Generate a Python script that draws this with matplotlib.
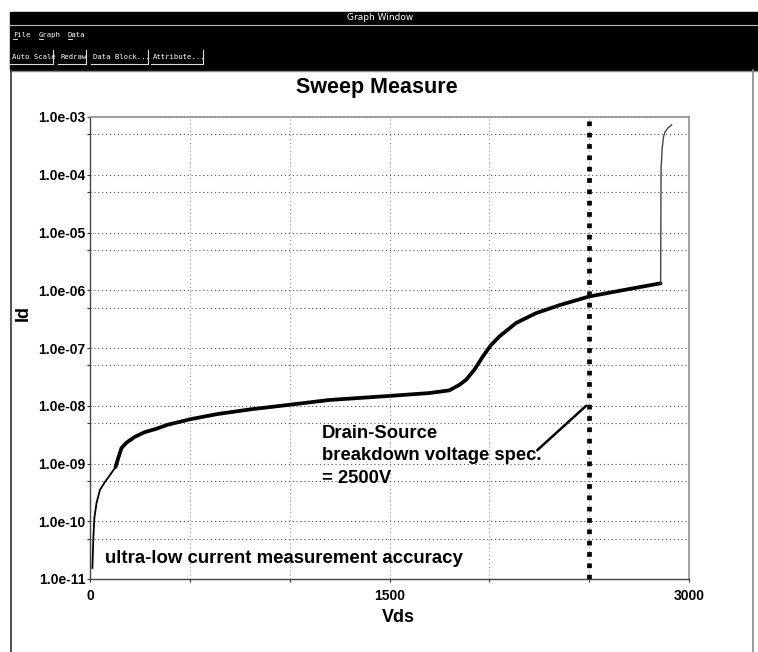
import numpy as np
import matplotlib.pyplot as plt
from matplotlib.patches import Rectangle
from matplotlib.lines import Line2D
from matplotlib.ticker import FixedLocator, FuncFormatter

# Id-Vds sweep, leakage region up to breakdown
vds = [12, 17, 22, 33, 50, 75, 100, 128, 142, 158, 183, 225, 275, 333, 390,
       508, 640, 808, 958, 1200, 1500, 1700, 1800, 1850, 1883, 1925, 1967,
       2008, 2050, 2133, 2233, 2350, 2500, 2667, 2858]
id_a = [1.55e-11, 5.4e-11, 1.15e-10, 2.1e-10, 3.5e-10, 4.8e-10, 6.3e-10,
        8.7e-10, 1.26e-9, 1.86e-9, 2.3e-9, 2.9e-9, 3.5e-9, 4.0e-9, 4.7e-9,
        5.9e-9, 7.2e-9, 8.7e-9, 1.0e-8, 1.26e-8, 1.48e-8, 1.66e-8, 1.85e-8,
        2.3e-8, 2.8e-8, 4.2e-8, 7.1e-8, 1.12e-7, 1.58e-7, 2.7e-7, 4.0e-7,
        5.5e-7, 7.8e-7, 1.0e-6, 1.32e-6]

# avalanche jump after the sweep passes ~2860 V
vds_bd = [2858, 2860, 2862, 2865, 2872, 2880, 2895, 2913]
id_bd = [1.32e-6, 1.4e-4, 1.6e-4, 2.7e-4, 4.5e-4, 5.5e-4, 6.5e-4, 7.3e-4]

spec_v = 2500
x_ticks = [0, 500, 1000, 1500, 2000, 2500, 3000]
x_labels = ['0', '', '', '1500', '', '', '3000']
y_major = [10.0 ** k for k in range(-11, -2)]
y_minor = [5 * 10.0 ** k for k in range(-11, -3)]

W, H = 758, 652
fig = plt.figure(figsize=(W / 100, H / 100), dpi=100)
fig.patch.set_facecolor('white')

def fx(px):
    return px / W

def fy(py):
    return 1 - py / H

# window frame
mono = 'DejaVu Sans Mono'
fig.patches.append(Rectangle((fx(10), fy(70)), 1 - fx(10), fy(12) - fy(70),
                             transform=fig.transFigure, color='black', zorder=0))
fig.lines.append(Line2D([fx(10), 1], [fy(25), fy(25)], transform=fig.transFigure,
                        color='#bbbbbb', lw=0.8))
fig.lines.append(Line2D([fx(10), 1], [fy(70.5), fy(70.5)], transform=fig.transFigure,
                        color='#888888', lw=1))
fig.lines.append(Line2D([fx(10.5), fx(10.5)], [0, fy(70)], transform=fig.transFigure,
                        color='#333333', lw=1.2))
fig.lines.append(Line2D([fx(753), fx(753)], [0, fy(70)], transform=fig.transFigure,
                        color='#888888', lw=1.2))
fig.text(fx(380), fy(17), 'Graph Window', color='white', fontsize=6.5,
         family='DejaVu Sans', ha='center', va='center')
for name, x0 in [('File', 13), ('Graph', 39), ('Data', 68)]:
    fig.text(fx(x0), fy(35), name, color='white', fontsize=5.2, family=mono,
             ha='left', va='center')
    fig.lines.append(Line2D([fx(x0), fx(x0 + 3.5)], [fy(39), fy(39)],
                            transform=fig.transFigure, color='white', lw=0.6))
for name, x0, x1 in [('Auto Scale', 12, 53), ('Redraw', 60, 86),
                     ('Data Block...', 93, 148), ('Attribute...', 153, 203)]:
    fig.text(fx(x0), fy(57), name, color='white', fontsize=5.2, family=mono,
             ha='left', va='center')
    fig.lines.append(Line2D([fx(x0 - 2), fx(x1), fx(x1)], [fy(64), fy(64), fy(50)],
                            transform=fig.transFigure, color='#dddddd', lw=0.8))

# plot area
ax = fig.add_axes([fx(90), fy(579), (689 - 90) / W, (579 - 117) / H])
ax.set_yscale('log')
ax.set_xlim(0, 3000)
ax.set_ylim(1e-11, 1e-3)

ax.plot(vds[:8], id_a[:8], color='black', lw=1.3, zorder=3)
ax.plot(vds[7:], id_a[7:], color='black', lw=2.7, zorder=3,
        solid_capstyle='round', solid_joinstyle='round')
ax.plot(vds_bd, id_bd, color='#444444', lw=1.0, zorder=3)

ax.axvline(spec_v, color='black', lw=3.4, linestyle=(0, (1, 1.4)), zorder=4)

ax.yaxis.set_major_locator(FixedLocator(y_major))
ax.yaxis.set_minor_locator(FixedLocator(y_minor))
ax.yaxis.set_major_formatter(FuncFormatter(lambda v, p: f'{v:.1e}'))
ax.yaxis.set_minor_formatter(FuncFormatter(lambda v, p: ''))
ax.set_xticks(x_ticks)
ax.set_xticklabels(x_labels)

ax.grid(True, which='major', axis='y', color='#555555', lw=0.8, linestyle=(0, (1, 2.5)))
ax.grid(True, which='minor', axis='y', color='#555555', lw=0.8, linestyle=(0, (1, 2.5)))
ax.grid(True, which='major', axis='x', color='#999999', lw=0.8, linestyle=(0, (1, 2.5)))

lab_font = dict(family='Liberation Sans', weight='bold')
ax.tick_params(axis='both', which='both', direction='out', length=2.5, width=0.8,
               color='#333333', labelsize=10)
ax.tick_params(axis='y', pad=1)
ax.tick_params(axis='x', pad=5)
for t in ax.get_xticklabels() + ax.get_yticklabels():
    t.set_fontfamily('Liberation Sans')
    t.set_fontweight('bold')

for side in ['left', 'bottom']:
    ax.spines[side].set_color('#444444')
    ax.spines[side].set_linewidth(1.0)
for side in ['top', 'right']:
    ax.spines[side].set_color('#999999')
    ax.spines[side].set_linewidth(1.3)

fig.text(fx(377), fy(87), 'Sweep Measure', fontsize=15.5, ha='center', va='center', **lab_font)
fig.text(fx(23), fy(313), 'Id', fontsize=13, rotation=90, ha='center', va='center', **lab_font)
fig.text(fx(398), fy(617), 'Vds', fontsize=13, ha='center', va='center', **lab_font)

ax.text(1160, 1.35e-9, 'Drain-Source\nbreakdown voltage spec.\n= 2500V',
        fontsize=13.3, ha='left', va='center', linespacing=1.45, zorder=5, **lab_font)
ax.annotate('', xy=(2485, 1.0e-8), xytext=(2240, 1.7e-9),
            arrowprops=dict(arrowstyle='-', lw=1.8, color='black', shrinkA=0, shrinkB=0))
ax.text(75, 2.3e-11, 'ultra-low current measurement accuracy',
        fontsize=13.4, ha='left', va='center', zorder=5, **lab_font)

fig.savefig('out.png', dpi=100)
